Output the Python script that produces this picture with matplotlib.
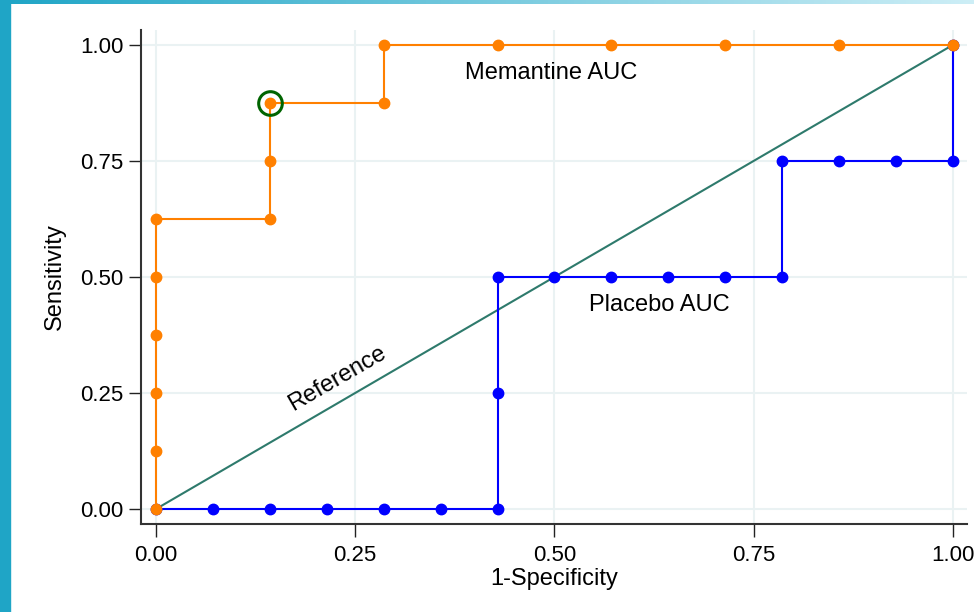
import numpy as np
import matplotlib.pyplot as plt
from matplotlib.patches import Rectangle

# Memantine ROC points
mem_x = [0, 0, 0, 0, 0, 0, 1/7, 1/7, 1/7, 2/7, 2/7, 3/7, 4/7, 5/7, 6/7, 1.0]
mem_y = [0, 0.125, 0.25, 0.375, 0.5, 0.625, 0.625, 0.75, 0.875, 0.875, 1.0, 1.0, 1.0, 1.0, 1.0, 1.0]

# Placebo ROC points
pla_x = [0, 1/14, 2/14, 3/14, 4/14, 5/14, 6/14, 6/14, 6/14, 7/14, 8/14, 9/14, 10/14, 11/14,
         11/14, 12/14, 13/14, 1.0, 1.0]
pla_y = [0, 0, 0, 0, 0, 0, 0, 0.25, 0.5, 0.5, 0.5, 0.5, 0.5, 0.5,
         0.75, 0.75, 0.75, 0.75, 1.0]

ref_x = [0, 1]
ref_y = [0, 1]
best_point = (1/7, 0.875)

ticks = [0, 0.25, 0.5, 0.75, 1.0]
tick_labels = ['0.00', '0.25', '0.50', '0.75', '1.00']

plt.rcParams['font.family'] = ['Liberation Sans', 'DejaVu Sans']

fig = plt.figure(figsize=(9.74, 6.12), dpi=100)

# frame decoration: left bar and top gradient band
fig.patches.append(Rectangle((0, 0), 10/974, 1, transform=fig.transFigure,
                             color='#1fa5c6', zorder=0))
band = fig.add_axes([0, 1 - 4/612, 1, 4/612])
c0 = np.array([31, 165, 198]) / 255
c1 = np.array([205, 238, 246]) / 255
grad = np.linspace(0, 1, 256)[None, :, None]
band.imshow(c0 + (c1 - c0) * grad, aspect='auto', extent=[0, 1, 0, 1])
band.axis('off')

ax = fig.add_axes([141/974, 1 - 524/612, (967 - 141)/974, (524 - 30)/612])
ax.set_xlim(-0.0188, 1.0176)
ax.set_ylim(-0.0323, 1.032)

ax.grid(True, color='#eaf2f3', linewidth=1.5)
ax.set_axisbelow(True)

ax.plot(ref_x, ref_y, color='#2e7a6c', linewidth=1.5, zorder=2)
ax.plot(pla_x, pla_y, color='#0000ff', linewidth=1.5, marker='o', markersize=7.5, zorder=3)
ax.plot(mem_x, mem_y, color='#ff8000', linewidth=1.5, marker='o', markersize=7.5, zorder=4)
ax.plot([best_point[0]], [best_point[1]], marker='o', markersize=17, markerfacecolor='none',
        markeredgecolor='#006400', markeredgewidth=2.2, linestyle='none', zorder=5)

ax.text(0.496, 0.94, 'Memantine AUC', fontsize=17, ha='center', va='center')
ax.text(0.631, 0.44, 'Placebo AUC', fontsize=17, ha='center', va='center')
ax.text(0.227, 0.282, 'Reference', fontsize=17, ha='center', va='center', rotation=30)

ax.set_xticks(ticks)
ax.set_xticklabels(tick_labels)
ax.set_yticks(ticks)
ax.set_yticklabels(tick_labels)
ax.tick_params(labelsize=16, length=9, width=1, color='#222222')
ax.tick_params(axis='x', pad=6)
ax.set_xlabel('1-Specificity', fontsize=17, labelpad=1.5)
ax.set_ylabel('Sensitivity', fontsize=17, labelpad=10)

for s in ['top', 'right']:
    ax.spines[s].set_visible(False)
for s in ['left', 'bottom']:
    ax.spines[s].set_color('#333333')
    ax.spines[s].set_linewidth(1.5)

fig.savefig('out.png', dpi=100)
